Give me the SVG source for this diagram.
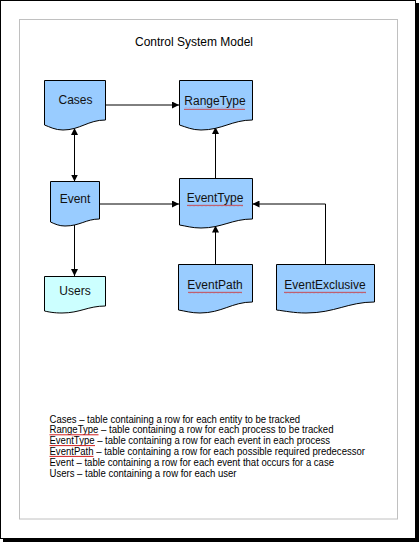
<svg xmlns="http://www.w3.org/2000/svg" width="419" height="542" viewBox="0 0 419 542">
<style>
.node{fill:#99ccff;stroke:#000;stroke-width:1}
.users{fill:#ccffff;stroke:#000;stroke-width:1}
.lbl{font-family:"Liberation Sans",Arial,sans-serif;font-size:12px;fill:#111;text-anchor:middle}
.leg{font-family:"Liberation Sans",Arial,sans-serif;font-size:10px;fill:#000}
.conn{fill:none;stroke:#000;stroke-width:1}
.sq{fill:url(#squig)}
.ul{stroke:#d02020;stroke-width:1}
</style>
<defs>
<marker id="arr" markerUnits="userSpaceOnUse" markerWidth="8" markerHeight="7" refX="7" refY="3.5" orient="auto-start-reverse">
<path d="M0,0 L7,3.5 L0,7 Z" fill="#000"/>
</marker>
<pattern id="squig" width="4" height="3" patternUnits="userSpaceOnUse">
<path d="M0,2.2 L1,0.8 L2,2.2 L3,0.8 L4,2.2" fill="none" stroke="#d03030" stroke-width="0.7"/>
</pattern>
</defs>
<rect x="0" y="0" width="419" height="542" fill="#fff"/>
<rect x="3" y="3" width="416" height="539" fill="#000"/>
<rect x="0.5" y="0.5" width="415" height="538" fill="#fff" stroke="#000" stroke-width="1"/>
<rect x="19.5" y="19.5" width="378" height="499.5" fill="none" stroke="#c0c0c0" stroke-width="1"/>
<text id="title" x="194" y="46" class="lbl" style="fill:#000">Control System Model</text>

<g id="connectors">
<path class="conn" d="M105.5,105 H179" marker-end="url(#arr)"/>
<path class="conn" d="M74.5,128 V181.5" marker-start="url(#arr)" marker-end="url(#arr)"/>
<path class="conn" d="M99.5,204 H179" marker-end="url(#arr)"/>
<path class="conn" d="M215.5,178.5 V127" marker-end="url(#arr)"/>
<path class="conn" d="M215.5,264.5 V225.5" marker-end="url(#arr)"/>
<path class="conn" d="M325.5,264.5 V204 H252.5" marker-end="url(#arr)"/>
<path class="conn" d="M74.5,224.5 V276" marker-end="url(#arr)"/>
</g>

<g id="cases">
<path class="node" d="M44.5,80.5 H105.5 V120 C88,120 80,130 63,130 C55,130 50,127 44.5,125 Z"/>
<text class="lbl" x="75.5" y="104">Cases</text>
</g>
<g id="rangetype">
<path class="node" d="M179.5,80.5 H252.5 V120 C232,120 222,130 201,130 C192,130 186,127 179.5,125 Z"/>
<text class="lbl" x="215" y="104.5">RangeType</text>
<rect class="sq" x="184" y="107" width="61" height="3"/>
</g>
<g id="event">
<path class="node" d="M50.5,181.5 H99.5 V219 C86,219 80,226 65,226 C59,226 55,224 50.5,222 Z"/>
<text class="lbl" x="75" y="202.5">Event</text>
</g>
<g id="eventtype">
<path class="node" d="M179.5,178.5 H252.5 V219 C232,219 222,228 201,228 C192,228 186,226 179.5,225 Z"/>
<text class="lbl" x="215" y="201.5">EventType</text>
<rect class="sq" x="187" y="204" width="56" height="3"/>
</g>
<g id="users">
<path class="users" d="M44.5,276.5 H105.5 V306 C88,306 80,313 62,313 C54,313 49,312 44.5,311 Z"/>
<text class="lbl" x="75" y="295">Users</text>
</g>
<g id="eventpath">
<path class="node" d="M178.5,264.5 H252.5 V302 C232,302 222,313 200,313 C191,313 185,311 178.5,310 Z"/>
<text class="lbl" x="215" y="288.5">EventPath</text>
<rect class="sq" x="188" y="291" width="54" height="3"/>
</g>
<g id="eventexclusive">
<path class="node" d="M276.5,264.5 H374.5 V302 C348,302 335,313 306,313 C294,313 285,311 276.5,310 Z"/>
<text class="lbl" x="325" y="288.5">EventExclusive</text>
<rect class="sq" x="284" y="291" width="82" height="3"/>
</g>

<g id="legend">
<text class="leg" x="49.5" y="422.5" textLength="250.5" lengthAdjust="spacingAndGlyphs">Cases – table containing a row for each entity to be tracked</text>
<text class="leg" x="49.5" y="433.3" textLength="284" lengthAdjust="spacingAndGlyphs">RangeType – table containing a row for each process to be tracked</text>
<text class="leg" x="49.5" y="444.1" textLength="280.5" lengthAdjust="spacingAndGlyphs">EventType – table containing a row for each event in each process</text>
<text class="leg" x="49.5" y="454.9" textLength="315.5" lengthAdjust="spacingAndGlyphs">EventPath – table containing a row for each possible required predecessor</text>
<text class="leg" x="49.5" y="465.7" textLength="284.5" lengthAdjust="spacingAndGlyphs">Event – table containing a row for each event that occurs for a case</text>
<text class="leg" x="49.5" y="476.5" textLength="187" lengthAdjust="spacingAndGlyphs">Users – table containing a row for each user</text>
<line class="ul" x1="49.5" y1="434.8" x2="98.5" y2="434.8"/>
<line class="ul" x1="49.5" y1="445.6" x2="95" y2="445.6"/>
<line class="ul" x1="49.5" y1="456.4" x2="93.5" y2="456.4"/>
</g>
</svg>
